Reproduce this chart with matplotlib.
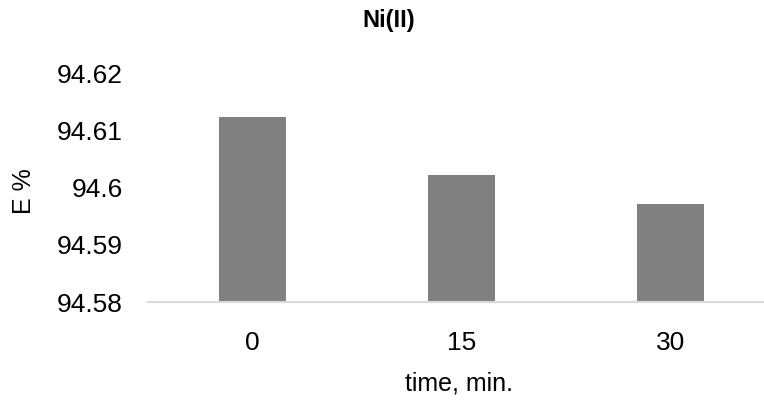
import matplotlib
matplotlib.use("Agg")
import matplotlib.pyplot as plt

times = ["0", "15", "30"]
e_pct = [94.6123, 94.6022, 94.5971]
y_ticks = [94.58, 94.59, 94.60, 94.61, 94.62]
y_tick_labels = ["94.58", "94.59", "94.6", "94.61", "94.62"]

plt.rcParams["font.family"] = ["Liberation Sans", "DejaVu Sans"]

fig = plt.figure(figsize=(7.64, 4.08), dpi=100)
ax = fig.add_axes([148 / 764, (408 - 302) / 408, (764 - 148) / 764, (302 - 73.5) / 408])

ax.bar(range(len(times)), e_pct, width=0.32, color="#808080", zorder=2)

ax.set_ylim(94.58, 94.62)
ax.set_xlim(-0.5, (764 - 148) / 209 - 0.5)
ax.set_yticks(y_ticks)
ax.set_yticklabels(y_tick_labels)
ax.set_xticks(range(len(times)))
ax.set_xticklabels(times)
ax.tick_params(axis="both", length=0, labelsize=19, colors="#000000")
ax.tick_params(axis="y", pad=18)
ax.tick_params(axis="x", pad=21)

for side in ("top", "right", "left"):
    ax.spines[side].set_visible(False)
ax.spines["bottom"].set_color("#d9d9d9")
ax.spines["bottom"].set_linewidth(1.5)
ax.spines["bottom"].set_zorder(3)

fig.text(389 / 764, 1 - 21 / 408, "Ni(II)", ha="center", va="center",
         fontsize=17, fontweight="bold")
fig.text(459 / 764, 1 - 383 / 408, "time, min.", ha="center", va="center", fontsize=18)
fig.text(24 / 764, 1 - 191 / 408, "E %", ha="center", va="center", fontsize=18, rotation=90)

fig.savefig("out.png", dpi=100)
